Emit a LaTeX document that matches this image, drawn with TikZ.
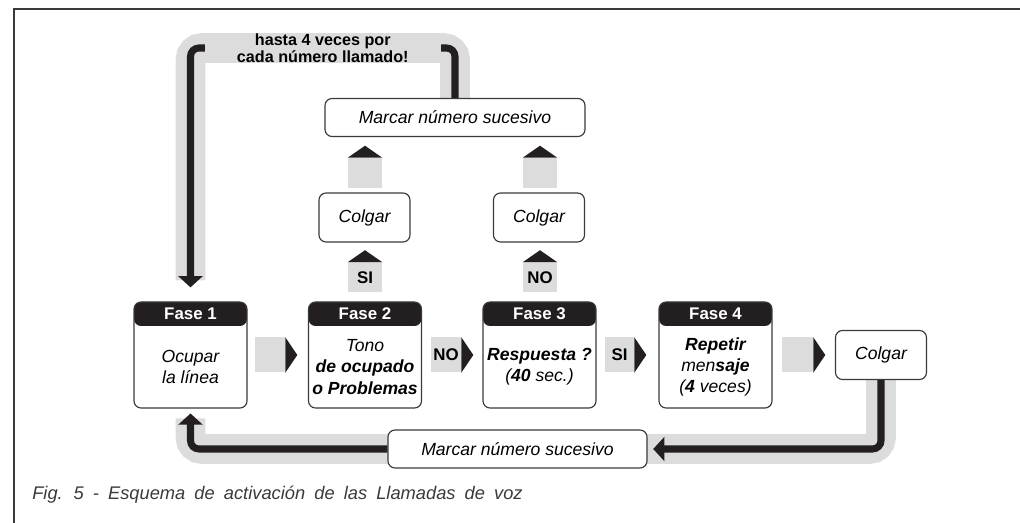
\documentclass[tikz,border=0pt]{standalone}
\usepackage{fontspec}
\setmainfont{Liberation Sans}
\usetikzlibrary{arrows.meta,calc,positioning,backgrounds}
\definecolor{dunkel}{HTML}{231F20}
\definecolor{band}{HTML}{DCDCDC}
\definecolor{rand}{HTML}{3A3A3A}
\newcommand{\px}{0.025cm}

\begin{document}
\begin{tikzpicture}[
  x=\px, y=-\px,
  > = {Triangle[width=17pt,length=8pt]},
  box/.style = {draw=rand, line width=0.8pt, rounded corners=5pt, fill=white, inner sep=0pt,
    align=center, font=\fontsize{12.5}{14}\selectfont\itshape},
  fase/.style = {box, minimum width=113*\px, minimum height=106*\px,
    path picture={\fill[dunkel] (path picture bounding box.north west) rectangle ($(path picture bounding box.north east)+(0,24)$);}},
  head/.style = {text=white, inner sep=0pt, font=\fontsize{12}{12}\selectfont\bfseries},
  body/.style = {align=center, inner sep=0pt, font=\fontsize{12.5}{15}\selectfont\itshape},
  klein/.style = {box, minimum width=91*\px, minimum height=49*\px},
  lang/.style = {box, minimum width=260*\px, minimum height=38*\px},
  grau/.style = {fill=band, inner sep=0pt, font=\fontsize{12}{12}\selectfont\bfseries},
  rechts/.style = {grau, minimum width=30*\px, minimum height=35*\px},
  hoch/.style = {grau, minimum width=34*\px, minimum height=30*\px},
  spur/.style = {draw=band, line width=21pt, rounded corners=8pt},
  draht/.style = {draw=dunkel, line width=5pt, rounded corners=6pt}
  ]
	\useasboundingbox (0,0) rectangle (1020,523);
	\draw[rand, line width=1.5pt] (14,523) |- (1020,9);

	% Phasen
	\node[fase] (f1) at (190.5,355) {};
	\node[fase] (f2) at (365,355) {};
	\node[fase] (f3) at (539.5,355) {};
	\node[fase] (f4) at (715.5,355) {};
	\foreach \i in {1,...,4}
		\node[head] (h\i) at ($(f\i.north)+(0,12)$) {Fase \i};

	\node[body] (b1) at ($(f1)+(0,12)$) {Ocupar\\la línea};
	\node[body] (b2) at ($(f2)+(0,12)$) {Tono\\\textbf{de ocupado}\\\textbf{o Problemas}};
	\node[body] (b3) at ($(f3)+(0,12)$) {\textbf{Respuesta ?}\\(\textbf{40} sec.)};
	\node[body] (b4) at ($(f4)+(0,12)$) {\textbf{Repetir}\\men\textbf{saje}\\(\textbf{4} veces)};

	\node[klein] (c5) at (881,355) {Colgar};
	\node[klein] (c2) at (364.5,217.5) {Colgar};
	\node[klein] (c3) at (539,217.5) {Colgar};
	\node[lang] (mt) at (455,117.5) {Marcar número sucesivo};
	\node[lang, minimum width=259*\px] (mb) at (517.5,449) {Marcar número sucesivo};

	% graue Pfeile
	\node[rechts] (p12) at (270,355) {};
	\node[rechts] (p23) at (446,355) {NO};
	\node[rechts, minimum width=29*\px] (p34) at (619.5,355) {SI};
	\node[rechts, minimum width=31*\px] (p45) at (797.5,355) {};
	\foreach \n in {p12,p23,p34,p45}
		\fill[dunkel] (\n.north east) -- ($(\n.east)+(12,0)$) -- (\n.south east) -- cycle;

	\node[hoch] (u2) at (365,277.5) {SI};
	\node[hoch] (u3) at (540,277.5) {NO};
	\node[hoch] (v2) at (365,173) {};
	\node[hoch] (v3) at (540,173) {};
	\foreach \n in {u2,u3,v2,v3}
		\fill[dunkel] (\n.north west) -- ($(\n.north)+(0,-12)$) -- (\n.north east) -- cycle;

	% Schleifen
	\coordinate (ol) at (190.5,48);
	\coordinate (or) at (455,48);
	\begin{scope}[on background layer]
		\draw[spur, shorten >=15pt] (mt.north) -- (or) -- (ol) -- (f1.north);
		\draw[spur, shorten >=7pt] (c5.south) |- (mb.east) -| (f1.south);
	\end{scope}
	\draw[draht, ->, shorten >=10pt] (mt.north) -- (or) -- (ol) -- (f1.north);
	\draw[draht, ->, shorten >=4pt] (c5.south) |- (mb.east);
	\draw[draht, ->, shorten >=3.5pt] (mb.west) -| (f1.south);

	\fill[band] ($(ol)+(14,-15)$) rectangle ($(or)+(-14,15)$);
	\node[align=center, inner sep=0pt, font=\fontsize{11.5}{12}\selectfont\bfseries] (lbl)
		at ($(ol)!0.5!(or)$) {hasta 4 veces por\\cada número llamado!};

	\node[anchor=base west, inner sep=0pt, text=rand, font=\fontsize{13}{13}\selectfont\itshape] (cap)
		at (32,500) {\spaceskip=0.5em\relax Fig. 5 - Esquema de activación de las Llamadas de voz};
\end{tikzpicture}
\end{document}
